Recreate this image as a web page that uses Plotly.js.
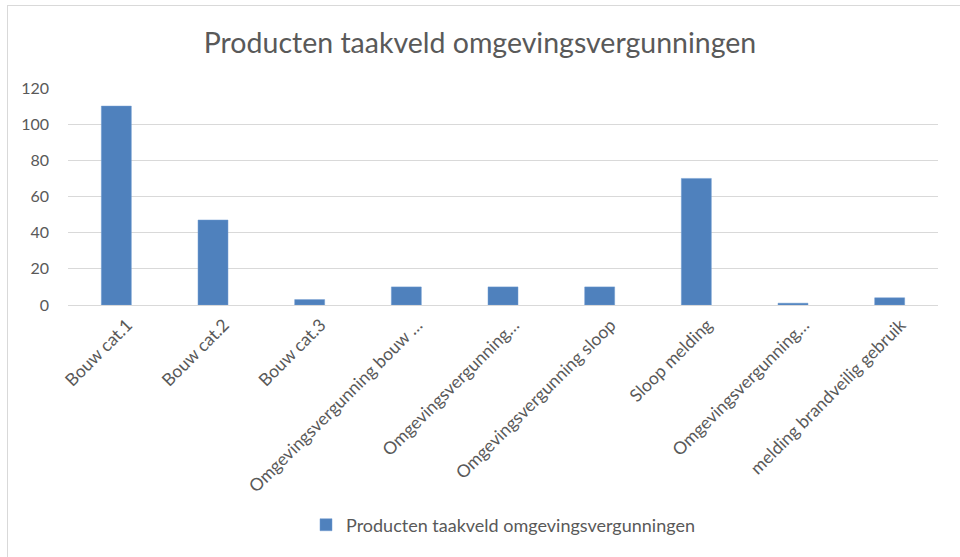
<!DOCTYPE html>
<html>
<head>
<meta charset="utf-8">
<script src="https://cdn.plot.ly/plotly-3.0.1.min.js"></script>
<style>
html,body{margin:0;padding:0;background:#fff;}
#wrap{position:relative;width:960px;height:557px;}
#chart{width:960px;height:557px;}
#frame{position:absolute;left:7px;top:5px;width:960px;height:560px;border-left:1px solid #d9d9d9;border-top:1px solid #d9d9d9;pointer-events:none;}
</style>
</head>
<body>
<div id="wrap"><div id="chart"></div><div id="frame"></div></div>
<script>
const categories = ["Bouw cat.1","Bouw cat.2","Bouw cat.3","Omgevingsvergunning bouw …","Omgevingsvergunning…","Omgevingsvergunning sloop","Sloop melding","Omgevingsvergunning…","melding brandveilig gebruik"];
const values = [110, 47, 3, 10, 10, 10, 70, 1, 4];
const seriesName = "Producten taakveld omgevingsvergunningen";
const chartTitle = "Producten taakveld omgevingsvergunningen";
const yTicks = [0, 20, 40, 60, 80, 100, 120];

const trace = {
  type: "bar",
  x: categories.map((c, i) => i),
  y: values,
  name: seriesName,
  marker: {color: "#4f81bd", line: {color: "#6f9bd0", width: 0.5}},
  showlegend: true
};

const layout = {
  width: 960, height: 557,
  margin: {l: 68, r: 22, t: 88, b: 252},
  paper_bgcolor: "#fff", plot_bgcolor: "#fff",
  font: {family: "Lato, 'Open Sans', sans-serif", color: "#595959", size: 16},
  title: {text: chartTitle, x: 0.5, xanchor: "center", y: 0.922, yanchor: "middle", font: {size: 28.5, color: "#595959"}},
  bargap: 0.69,
  xaxis: {
    tickmode: "array", tickvals: categories.map((c, i) => i), ticktext: categories,
    tickangle: -45, showgrid: false, zeroline: false, showline: true, linecolor: "#d9d9d9",
    range: [-0.5, categories.length - 0.5], ticks: "", tickfont: {size: 17.5, color: "#595959"},
    ticklabelshift: 11, ticklabelstandoff: 2
  },
  yaxis: {
    range: [0, 120], tickvals: yTicks, showgrid: true, gridcolor: "#d9d9d9", gridwidth: 1,
    zeroline: false, showline: false, ticks: "", ticklen: 0, tickfont: {size: 16, color: "#595959"},
    ticklabelstandoff: 18
  },
  legend: {orientation: "h", x: 0.5, xanchor: "center", y: -1.014, yanchor: "middle", itemwidth: 30, font: {size: 18, color: "#595959"}},
};

Plotly.newPlot("chart", [trace], layout, {displayModeBar: false, staticPlot: true});
</script>
</body>
</html>
